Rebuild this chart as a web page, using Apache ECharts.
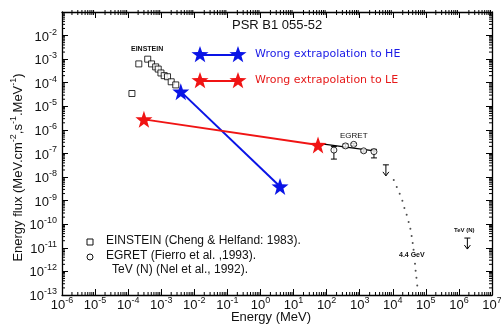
<!DOCTYPE html>
<html><head><meta charset="utf-8">
<script src="https://cdn.jsdelivr.net/npm/echarts@6/dist/echarts.min.js"></script>
<style>html,body{margin:0;padding:0;background:#fff}#c{width:501px;height:335px}</style>
</head><body><div id="c"></div>
<script>
// ---- data (energy in MeV, flux in MeV cm-2 s-1 MeV-1) ----
const einsteinE = [2.1e-4, 3.9e-4, 5.1e-4, 6.8e-4, 8.1e-4, 9.8e-4, 1.23e-3, 1.55e-3, 2.0e-3, 2.75e-3, 1.3e-4];
const einsteinF = [6.3e-4, 1.0e-3, 6.3e-4, 4.7e-4, 3.8e-4, 2.6e-4, 2.0e-4, 1.8e-4, 1.1e-4, 8.1e-5, 3.5e-5];
const egretE = [166, 372, 660, 1320, 2700];
const egretF = [1.4e-7, 2.1e-7, 2.45e-7, 1.3e-7, 1.2e-7];
const egretLo = [5.8e-8, 1.75e-7, 2.2e-7, 1.15e-7, 6.5e-8];
const egretHi = [2.0e-7, 2.5e-7, 2.7e-7, 1.45e-7, 1.5e-7];
const egretFitE = [63, 3160];
const egretFitF = [2.6e-7, 1.26e-7];
const limitE = [6200, 1.8e6];
const limitF = [3.3e-8, 2.6e-11];
const cutoffE = [1.07e4, 1.32e4, 1.62e4, 1.95e4, 2.24e4, 2.63e4, 3.02e4, 3.4e4, 3.72e4, 4.0e4, 4.25e4, 4.7e4, 4.9e4, 5.2e4, 5.5e4];
const cutoffF = [7.6e-9, 3.8e-9, 1.95e-9, 9.8e-10, 4.9e-10, 2.5e-10, 1.26e-10, 6.4e-11, 3.2e-11, 1.6e-11, 8.3e-12, 2.1e-12, 1.07e-12, 5.4e-13, 2.5e-13];
const heE = [3.9e-3, 3.9];
const heF = [4.2e-5, 4.0e-9];
const leE = [3.0e-4, 55];
const leF = [2.8e-6, 2.3e-7];
const xTickExp = [-6,-5,-4,-3,-2,-1,0,1,2,3,4,5,6,7];
const yTickExp = [-13,-12,-11,-10,-9,-8,-7,-6,-5,-4,-3,-2];

const zip = (a, b) => a.map((v, i) => [v, b[i]]);

function starPts(cx, cy, R) {
  const r = R * 0.40, pts = [];
  for (let i = 0; i < 10; i++) {
    const a = -Math.PI / 2 + i * Math.PI / 5, rr = i % 2 ? r : R;
    pts.push([cx + rr * Math.cos(a), cy + rr * Math.sin(a)]);
  }
  return pts;
}
const starPath = 'path://' + starPts(50, 52, 50).map((p, i) => (i ? 'L' : 'M') + p[0].toFixed(1) + ',' + p[1].toFixed(1)).join(' ') + ' Z';

const FONT = 'Liberation Sans, Arial, sans-serif';
const richTick = {
  b: {fontSize: 13, fontFamily: FONT, color: '#111', verticalAlign: 'bottom', lineHeight: 16},
  s: {fontSize: 9, fontFamily: FONT, color: '#111', verticalAlign: 'top', lineHeight: 16}
};
function fmt(v) {
  const e = Math.round(Math.log10(v));
  return '{b|10}{s|' + e + '}';
}

// minor tick positions (2..9 per decade) for the frame
function minorVals(lo, hi) {
  const out = [];
  for (let e = lo; e < hi; e++) for (let k = 2; k <= 9; k++) out.push(k * Math.pow(10, e));
  return out;
}
const xMinor = minorVals(-6, 7);
const yMinor = minorVals(-13, -1);

const chart = echarts.init(document.getElementById('c'));
const axisLine = {show: true, lineStyle: {color: '#000', width: 1.3}};
const baseLog = {type: 'log', logBase: 10, interval: 1, splitLine: {show: false}, axisLine: axisLine,
  axisTick: {inside: true, length: 6, lineStyle: {color: '#000'}},
  minorTick: {show: false}};

chart.setOption({
  animation: false,
  backgroundColor: '#fff',
  grid: {left: 62, right: 9, top: 12, bottom: 40, containLabel: false, outerBoundsMode: 'none'},
  xAxis: [
    Object.assign({}, baseLog, {min: 1e-6, max: 1e7, position: 'bottom',
      name: 'Energy (MeV)', nameLocation: 'middle', nameGap: 16, nameMoveOverlap: false,
      nameTextStyle: {fontFamily: FONT, fontSize: 13, color: '#111', padding: [0, 12, 0, 0]},
      axisLabel: {formatter: fmt, rich: richTick, margin: 1, interval: 0, hideOverlap: false}}),
    Object.assign({}, baseLog, {min: 1e-6, max: 1e7, position: 'top', axisLabel: {show: false}})
  ],
  yAxis: [
    Object.assign({}, baseLog, {min: 1e-13, max: 1e-1, position: 'left',
      name: '{t|Energy flux (MeV.cm}{u|-2}{t|,s}{u|-1}{t|.MeV}{u|-1}{t|)}', nameLocation: 'middle', nameGap: 37,
      nameRotate: 90, nameMoveOverlap: false,
      nameTextStyle: {padding: [0, 28, 0, 0], rich: {
        t: {fontFamily: FONT, fontSize: 13, color: '#111', verticalAlign: 'bottom', lineHeight: 16},
        u: {fontFamily: FONT, fontSize: 9, color: '#111', verticalAlign: 'top', lineHeight: 16}}},
      axisLabel: {formatter: v => (Math.round(Math.log10(v)) >= -1 ? '' : fmt(v)), rich: richTick, margin: 5, interval: 0, hideOverlap: false}}),
    Object.assign({}, baseLog, {min: 1e-13, max: 1e-1, position: 'right', axisLabel: {show: false}})
  ],
  series: [
    {type: 'custom', silent: true, z: 1, data: xMinor.map(v => [v]),
      renderItem: (p, api) => {
        const cs = p.coordSys;
        const x = api.coord([api.value(0), 1e-13])[0];
        const st = {stroke: '#000', lineWidth: 1};
        return {type: 'group', children: [
          {type: 'line', shape: {x1: x, y1: cs.y + cs.height, x2: x, y2: cs.y + cs.height - 3}, style: st},
          {type: 'line', shape: {x1: x, y1: cs.y - 2, x2: x, y2: cs.y + 3}, style: st}]};
      }},
    {type: 'custom', silent: true, z: 1, data: yMinor.map(v => [1e-6, v]),
      renderItem: (p, api) => {
        const cs = p.coordSys;
        const y = api.coord([1e-6, api.value(1)])[1];
        const st = {stroke: '#000', lineWidth: 1};
        return {type: 'group', children: [
          {type: 'line', shape: {x1: cs.x, y1: y, x2: cs.x + 3, y2: y}, style: st},
          {type: 'line', shape: {x1: cs.x + cs.width, y1: y, x2: cs.x + cs.width - 3, y2: y}, style: st}]};
      }},
    {type: 'scatter', data: zip(einsteinE, einsteinF), symbol: 'rect', symbolSize: 6,
      itemStyle: {color: '#fff', borderColor: '#000', borderWidth: 1}, z: 3},
    {type: 'line', data: zip(egretFitE, egretFitF), symbol: 'none', lineStyle: {color: '#000', width: 1.3}, z: 2},
    {type: 'custom', data: egretE.map((e, i) => [e, egretLo[i], egretHi[i]]), z: 3,
      renderItem: (p, api) => {
        const lo = api.coord([api.value(0), api.value(1)]);
        const hi = api.coord([api.value(0), api.value(2)]);
        const st = {stroke: '#000', lineWidth: 1};
        return {type: 'group', children: [
          {type: 'line', shape: {x1: lo[0], y1: lo[1], x2: hi[0], y2: hi[1]}, style: st},
          {type: 'line', shape: {x1: lo[0] - 3, y1: lo[1], x2: lo[0] + 3, y2: lo[1]}, style: st},
          {type: 'line', shape: {x1: hi[0] - 3, y1: hi[1], x2: hi[0] + 3, y2: hi[1]}, style: st}]};
      }},
    {type: 'scatter', data: zip(egretE, egretF), symbol: 'circle', symbolSize: 6,
      itemStyle: {color: '#fff', borderColor: '#000', borderWidth: 1}, z: 4},
    {type: 'custom', data: zip(limitE, limitF), z: 3,
      renderItem: (p, api) => {
        const c = api.coord([api.value(0), api.value(1)]);
        const st = {stroke: '#000', lineWidth: 1, fill: null};
        return {type: 'group', children: [
          {type: 'line', shape: {x1: c[0] - 3, y1: c[1], x2: c[0] + 3, y2: c[1]}, style: st},
          {type: 'line', shape: {x1: c[0], y1: c[1], x2: c[0], y2: c[1] + 11}, style: st},
          {type: 'polyline', shape: {points: [[c[0] - 3, c[1] + 7], [c[0], c[1] + 11], [c[0] + 3, c[1] + 7]]}, style: st}]};
      }},
    {type: 'scatter', data: zip(cutoffE, cutoffF), symbol: 'circle', symbolSize: 2,
      itemStyle: {color: '#222'}, z: 3},
    {type: 'line', data: zip(heE, heF), symbol: starPath, symbolSize: 17, showSymbol: true,
      lineStyle: {color: '#0a14e6', width: 2}, itemStyle: {color: '#0a14e6'}, z: 5},
    {type: 'line', data: zip(leE, leF), symbol: starPath, symbolSize: 17, showSymbol: true,
      lineStyle: {color: '#f01414', width: 2}, itemStyle: {color: '#f01414'}, z: 5}
  ],
  graphic: [
    {type: 'text', x: 232, y: 19, style: {text: 'PSR B1 055-52', font: '13px ' + FONT, fill: '#111'}},
    {type: 'polyline', shape: {points: [[200, 55], [238, 55]]}, style: {stroke: '#0a14e6', lineWidth: 2}},
    {type: 'polygon', shape: {points: starPts(200, 55, 9)}, style: {fill: '#0a14e6'}},
    {type: 'polygon', shape: {points: starPts(238, 55, 9)}, style: {fill: '#0a14e6'}},
    {type: 'text', x: 255, y: 49, style: {text: 'Wrong extrapolation to HE', font: '11px DejaVu Sans', fill: '#1a1ae6'}},
    {type: 'polyline', shape: {points: [[200, 81], [238, 81]]}, style: {stroke: '#f01414', lineWidth: 2}},
    {type: 'polygon', shape: {points: starPts(200, 81, 9)}, style: {fill: '#f01414'}},
    {type: 'polygon', shape: {points: starPts(238, 81, 9)}, style: {fill: '#f01414'}},
    {type: 'text', x: 255, y: 75, style: {text: 'Wrong extrapolation to LE', font: '11px DejaVu Sans', fill: '#e61a1a'}},
    {type: 'text', x: 131, y: 46, style: {text: 'EINSTEIN', font: 'bold 7px ' + FONT, fill: '#111'}},
    {type: 'text', x: 340, y: 132, style: {text: 'EGRET', font: '8px ' + FONT, fill: '#111'}},
    {type: 'text', x: 399, y: 252, style: {text: '4.4 GeV', font: 'bold 7px ' + FONT, fill: '#111'}},
    {type: 'text', x: 454, y: 227, style: {text: 'TeV (N)', font: 'bold 6px ' + FONT, fill: '#111'}},
    {type: 'rect', shape: {x: 87, y: 239, width: 6, height: 6}, style: {fill: '#fff', stroke: '#111', lineWidth: 1}},
    {type: 'circle', shape: {cx: 90, cy: 257, r: 3}, style: {fill: '#fff', stroke: '#111', lineWidth: 1}},
    {type: 'text', x: 106, y: 235, style: {text: 'EINSTEIN (Cheng & Helfand: 1983).', font: '12px ' + FONT, fill: '#111'}},
    {type: 'text', x: 106, y: 250, style: {text: 'EGRET (Fierro et al. ,1993).', font: '12px ' + FONT, fill: '#111'}},
    {type: 'text', x: 112, y: 264, style: {text: 'TeV (N) (Nel et al., 1992).', font: '12px ' + FONT, fill: '#111'}}
  ]
});
</script></body></html>
